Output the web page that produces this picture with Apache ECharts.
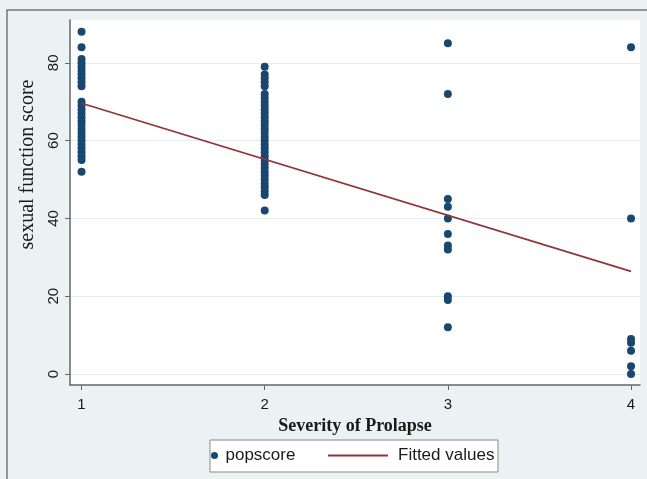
<!DOCTYPE html>
<html>
<head>
<meta charset="utf-8">
<script src="https://cdn.jsdelivr.net/npm/echarts@6/dist/echarts.min.js"></script>
<style>html,body{margin:0;padding:0;background:#eaf2f3;}#c{width:647px;height:479px;}</style>
</head>
<body>
<div id="c"></div>
<script>
// Severity categories and popscore values
const severity = [1, 2, 3, 4];
const score1 = [88, 84, 81, 80, 79, 78, 77, 76, 75, 74, 70, 69, 68, 67, 66, 65, 64, 63, 62, 61, 60, 59, 58, 57, 56, 55, 52];
const score2 = [79, 77, 76, 75, 74, 72, 71, 70, 69, 68, 67, 66, 65, 64, 63, 62, 61, 60, 59, 58, 57, 56, 55, 54, 53, 52, 51, 50, 49, 48, 47, 46, 42];
const score3 = [85, 72, 45, 43, 40, 36, 33, 32, 20, 19, 12];
const score4 = [84, 40, 9, 8, 6, 2, 0];
// Fitted values line (endpoints)
const fitX = [1, 4];
const fitY = [69.6, 26.4];
// Tick labels
const xTicks = [1, 2, 3, 4];
const yTicks = [0, 20, 40, 60, 80];

const groups = [score1, score2, score3, score4];
const scatterData = [];
groups.forEach((g, i) => g.forEach(v => scatterData.push([severity[i], v])));
const fitData = fitX.map((x, i) => [x, fitY[i]]);

const chart = echarts.init(document.getElementById('c'), null, {renderer: 'canvas'});
const axisColor = '#666';
chart.setOption({
  backgroundColor: '#eaf2f3',
  animation: false,
  grid: {left: 70, right: 7, top: 20, bottom: 94, show: true, backgroundColor: '#ffffff', borderWidth: 0},
  xAxis: {
    type: 'value', min: 0.937, max: 4.049,
    name: 'Severity of Prolapse', nameLocation: 'middle', nameGap: 26,
    nameTextStyle: {fontFamily: 'Liberation Serif', fontWeight: 'bold', fontSize: 18, color: '#1a1a1a'},
    axisLine: {show: true, onZero: false, lineStyle: {color: axisColor, width: 1.5}},
    axisTick: {show: true, length: 5, customValues: xTicks, lineStyle: {color: axisColor}},
    axisLabel: {customValues: xTicks, margin: 12, fontFamily: 'Liberation Sans', fontSize: 15, color: '#1a1a1a'},
    splitLine: {show: false}
  },
  yAxis: {
    type: 'value', min: -2.83, max: 91,
    name: 'sexual function score', nameLocation: 'middle', nameGap: 32,
    nameTextStyle: {fontFamily: 'Liberation Serif', fontSize: 20, color: '#1a1a1a', padding: [0, 0, 0, 76]},
    axisLine: {show: true, onZero: false, lineStyle: {color: axisColor, width: 1.5}},
    axisTick: {show: true, length: 5, customValues: yTicks, lineStyle: {color: axisColor}},
    axisLabel: {customValues: yTicks, rotate: 90, margin: 9, fontFamily: 'Liberation Sans', fontSize: 15, color: '#1a1a1a'},
    splitLine: {show: true, lineStyle: {color: '#e3eef2', width: 1}}
  },
  legend: [
    {data: ['popscore'], left: 211, top: 447, padding: 0, itemWidth: 12, itemHeight: 7,
     textStyle: {fontFamily: 'Liberation Sans', fontSize: 17, color: '#1a1a1a'}},
    {data: [{name: 'Fitted values', icon: 'rect'}], left: 328, top: 447, padding: 0, itemWidth: 60, itemHeight: 2,
     textStyle: {fontFamily: 'Liberation Sans', fontSize: 17, color: '#1a1a1a', padding: [0, 0, 0, 5]}}
  ],
  graphic: [
    {type: 'rect', shape: {x: 7, y: 10, width: 700, height: 500}, style: {fill: 'none', stroke: '#777', lineWidth: 1.5}, silent: true, z: -10},
    {type: 'rect', shape: {x: 210, y: 440, width: 288, height: 32}, style: {fill: '#ffffff', stroke: '#888', lineWidth: 1}, silent: true, z: -5}
  ],
  series: [
    {name: 'popscore', type: 'scatter', data: scatterData, symbol: 'circle', symbolSize: 8,
     itemStyle: {color: '#1a476f', opacity: 1}, z: 3},
    {name: 'Fitted values', type: 'line', data: fitData, symbol: 'none', showSymbol: false,
     lineStyle: {color: '#90353b', width: 1.8}, itemStyle: {color: '#90353b'}, z: 4}
  ]
});
</script>
</body>
</html>
